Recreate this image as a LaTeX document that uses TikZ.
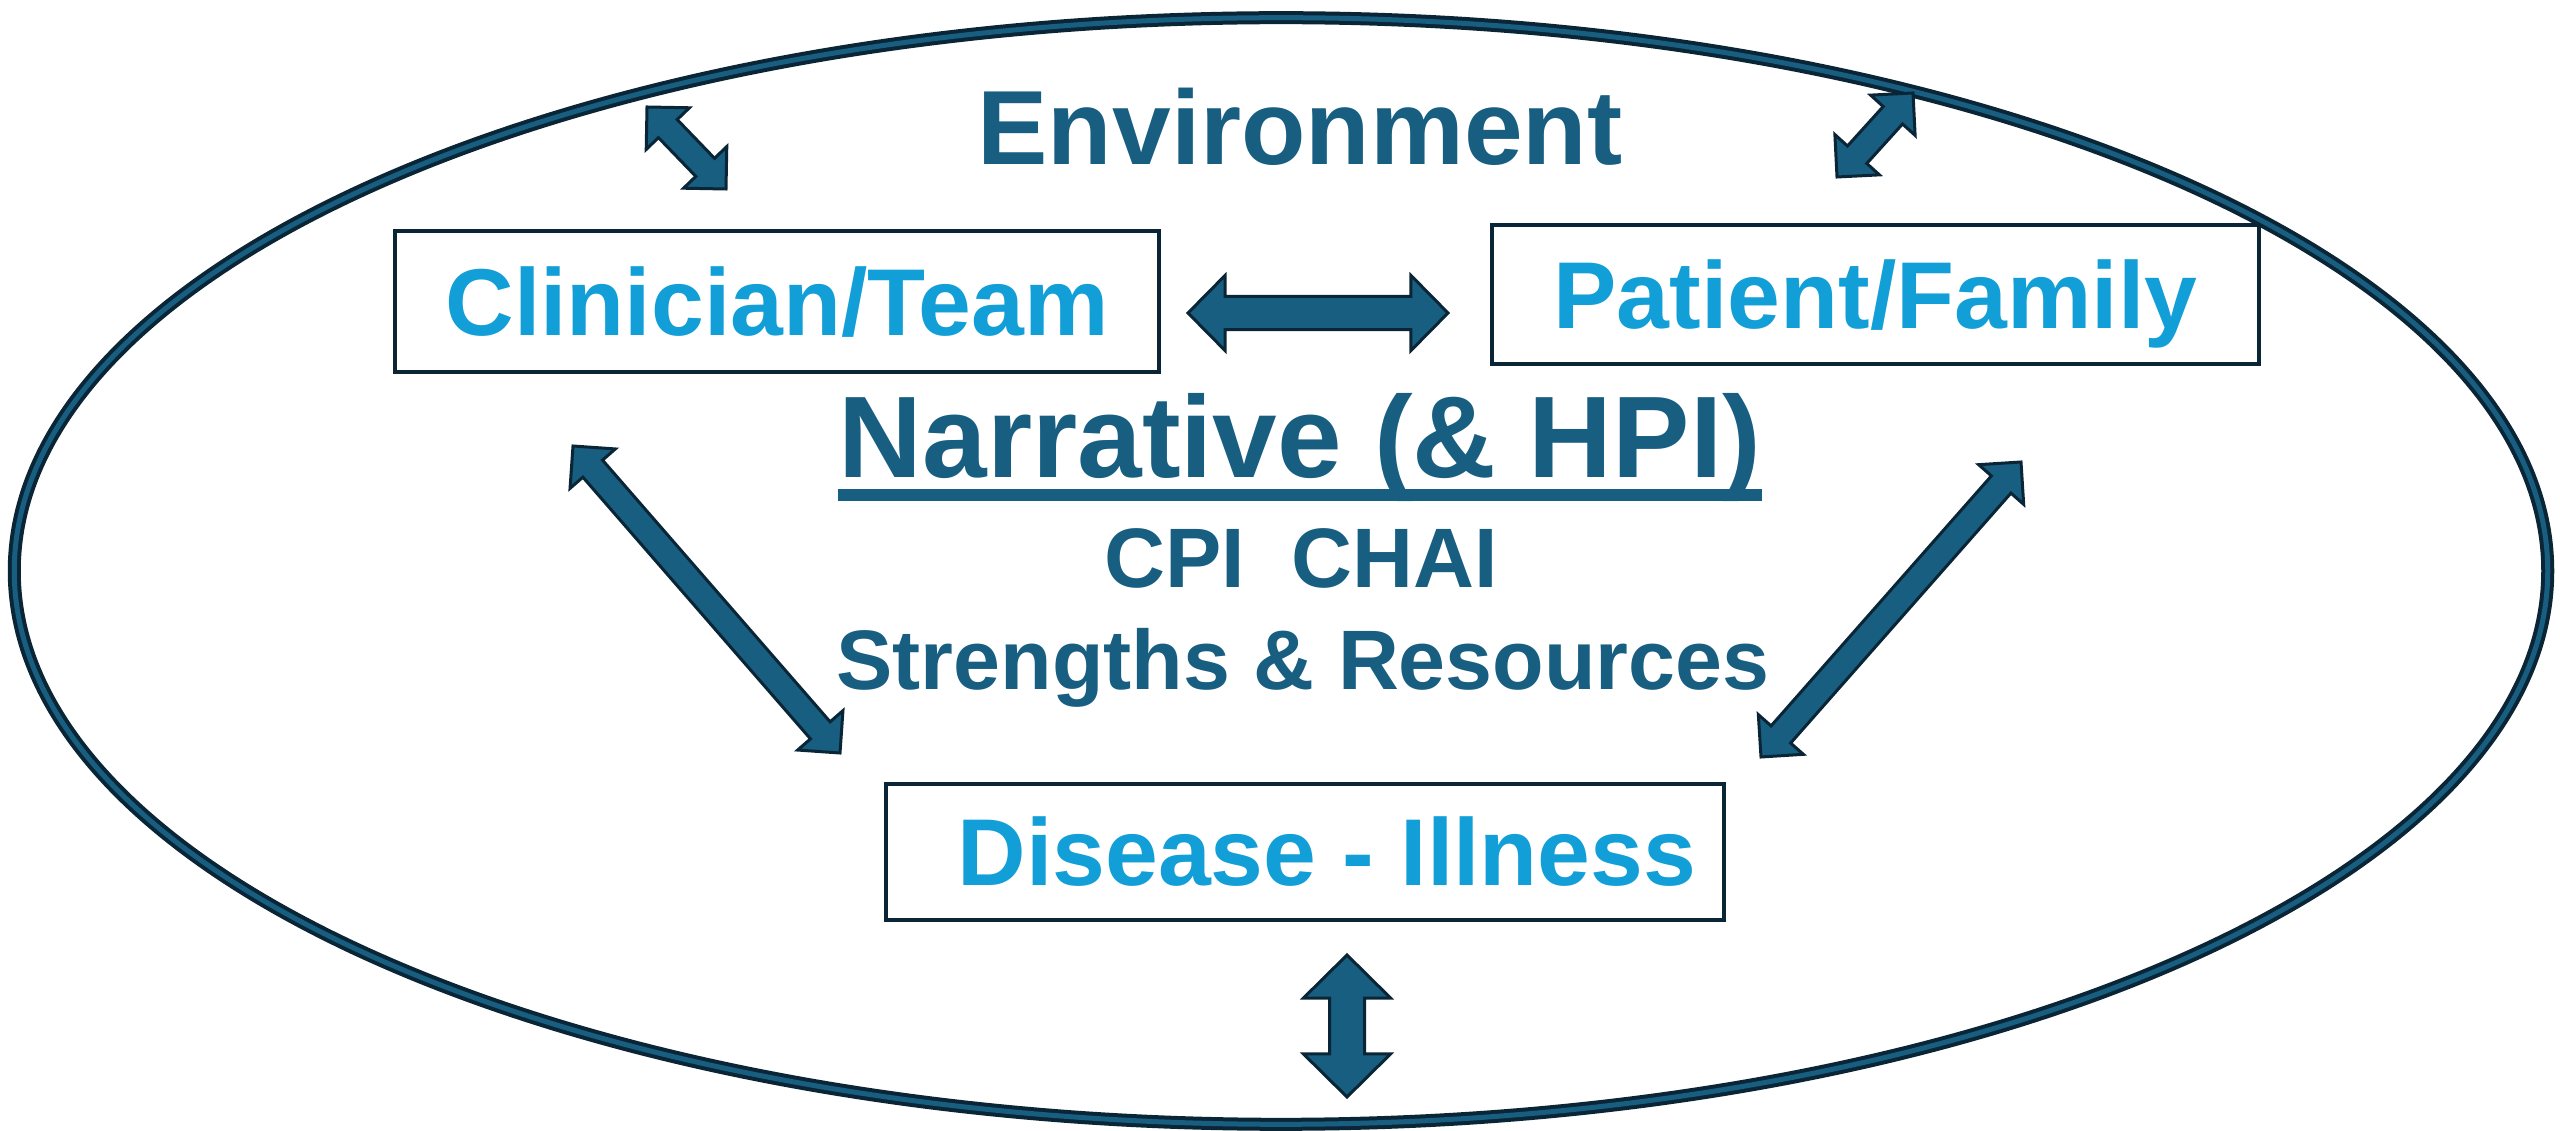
\documentclass[tikz,border=0pt]{standalone}
\usepackage{fontspec}
\setmainfont{Liberation Sans}
\usetikzlibrary{calc}
\definecolor{envblue}{RGB}{23,94,129}
\definecolor{lblblue}{RGB}{18,158,214}
\definecolor{edgenavy}{RGB}{10,38,54}
% fat double-headed arrow: ends, head length, half shaft, half head
\newcommand{\fatarrow}[5]{%
  \coordinate (fa1) at ($(#1)!#3!(#2)$);
  \coordinate (fa2) at ($(#2)!#3!(#1)$);
  \draw[fatarrowstyle] (#1) -- ($(fa1)!#5!90:(#2)$) -- ($(fa1)!#4!90:(#2)$)
    -- ($(fa2)!#4!-90:(#1)$) -- ($(fa2)!#5!-90:(#1)$) -- (#2)
    -- ($(fa2)!#5!90:(#1)$) -- ($(fa2)!#4!90:(#1)$)
    -- ($(fa1)!#4!-90:(#2)$) -- ($(fa1)!#5!-90:(#2)$) -- cycle;}

\begin{document}
\begin{tikzpicture}[x=0.01cm,y=-0.01cm,
  fatarrowstyle/.style={fill=envblue,draw=edgenavy,line width=0.03cm},
  boxlbl/.style={draw=edgenavy,line width=0.04cm,text=lblblue,inner sep=0pt,
    font=\fontsize{27}{32}\selectfont\bfseries,text height=19.3pt,text depth=0pt},
  midtxt/.style={text=envblue,inner sep=0pt,anchor=base}]
\useasboundingbox (0,0) rectangle (2560,1131);
% Environment ring
\draw[draw=edgenavy,double=envblue,line width=0.04cm,double distance=0.05cm]
  (1281,571) ellipse [x radius=12.66cm,y radius=5.53cm];
% Boxes
\node[boxlbl,minimum width=7.64cm,minimum height=1.41cm] (clin) at (777,301.5) {Clinician/Team};
\node[boxlbl,minimum width=7.67cm,minimum height=1.39cm] (pat) at (1875.5,294.5) {Patient/Family};
\node[boxlbl,minimum width=8.38cm,minimum height=1.36cm] (dis) at (1305,852) {\hspace{0.44cm}Disease - Illness};
% Texts
\node[midtxt,font=\fontsize{30}{36}\selectfont\bfseries] (env) at (1300,165) {Environment};
\node[midtxt,font=\fontsize{33}{40}\selectfont\bfseries] (narr) at (1300,478) {Narrative (\& HPI)};
\fill[envblue] ($(narr.base west)+(0,11)$) rectangle ($(narr.base east)+(0,23)$);
\node[midtxt,font=\fontsize{24}{29}\selectfont\bfseries] (cpi) at (1301,588) {CPI\ \ CHAI};
\node[midtxt,font=\fontsize{24}{29}\selectfont\bfseries] (str) at (1303,690) {Strengths \& Resources};
% Arrow ends
\coordinate (tl1) at (647,107);
\coordinate (tl2) at (726,189);
\coordinate (tr1) at (1913,93);
\coordinate (tr2) at (1837,177);
\coordinate (hz1) at (1188,313);
\coordinate (hz2) at (1448,313);
\coordinate (lf1) at (573,446);
\coordinate (lf2) at (840,753);
\coordinate (rt1) at (2021,462);
\coordinate (rt2) at (1761,757);
\coordinate (bt1) at (1347,955);
\coordinate (bt2) at (1347,1097);
% Arrows
\fatarrow{tl1}{tl2}{0.30cm}{0.13cm}{0.30cm}
\fatarrow{tr1}{tr2}{0.30cm}{0.13cm}{0.30cm}
\fatarrow{hz1}{hz2}{0.37cm}{0.165cm}{0.375cm}
\fatarrow{lf1}{lf2}{0.30cm}{0.13cm}{0.30cm}
\fatarrow{rt1}{rt2}{0.30cm}{0.13cm}{0.30cm}
\fatarrow{bt1}{bt2}{0.43cm}{0.175cm}{0.435cm}
\end{tikzpicture}
\end{document}
